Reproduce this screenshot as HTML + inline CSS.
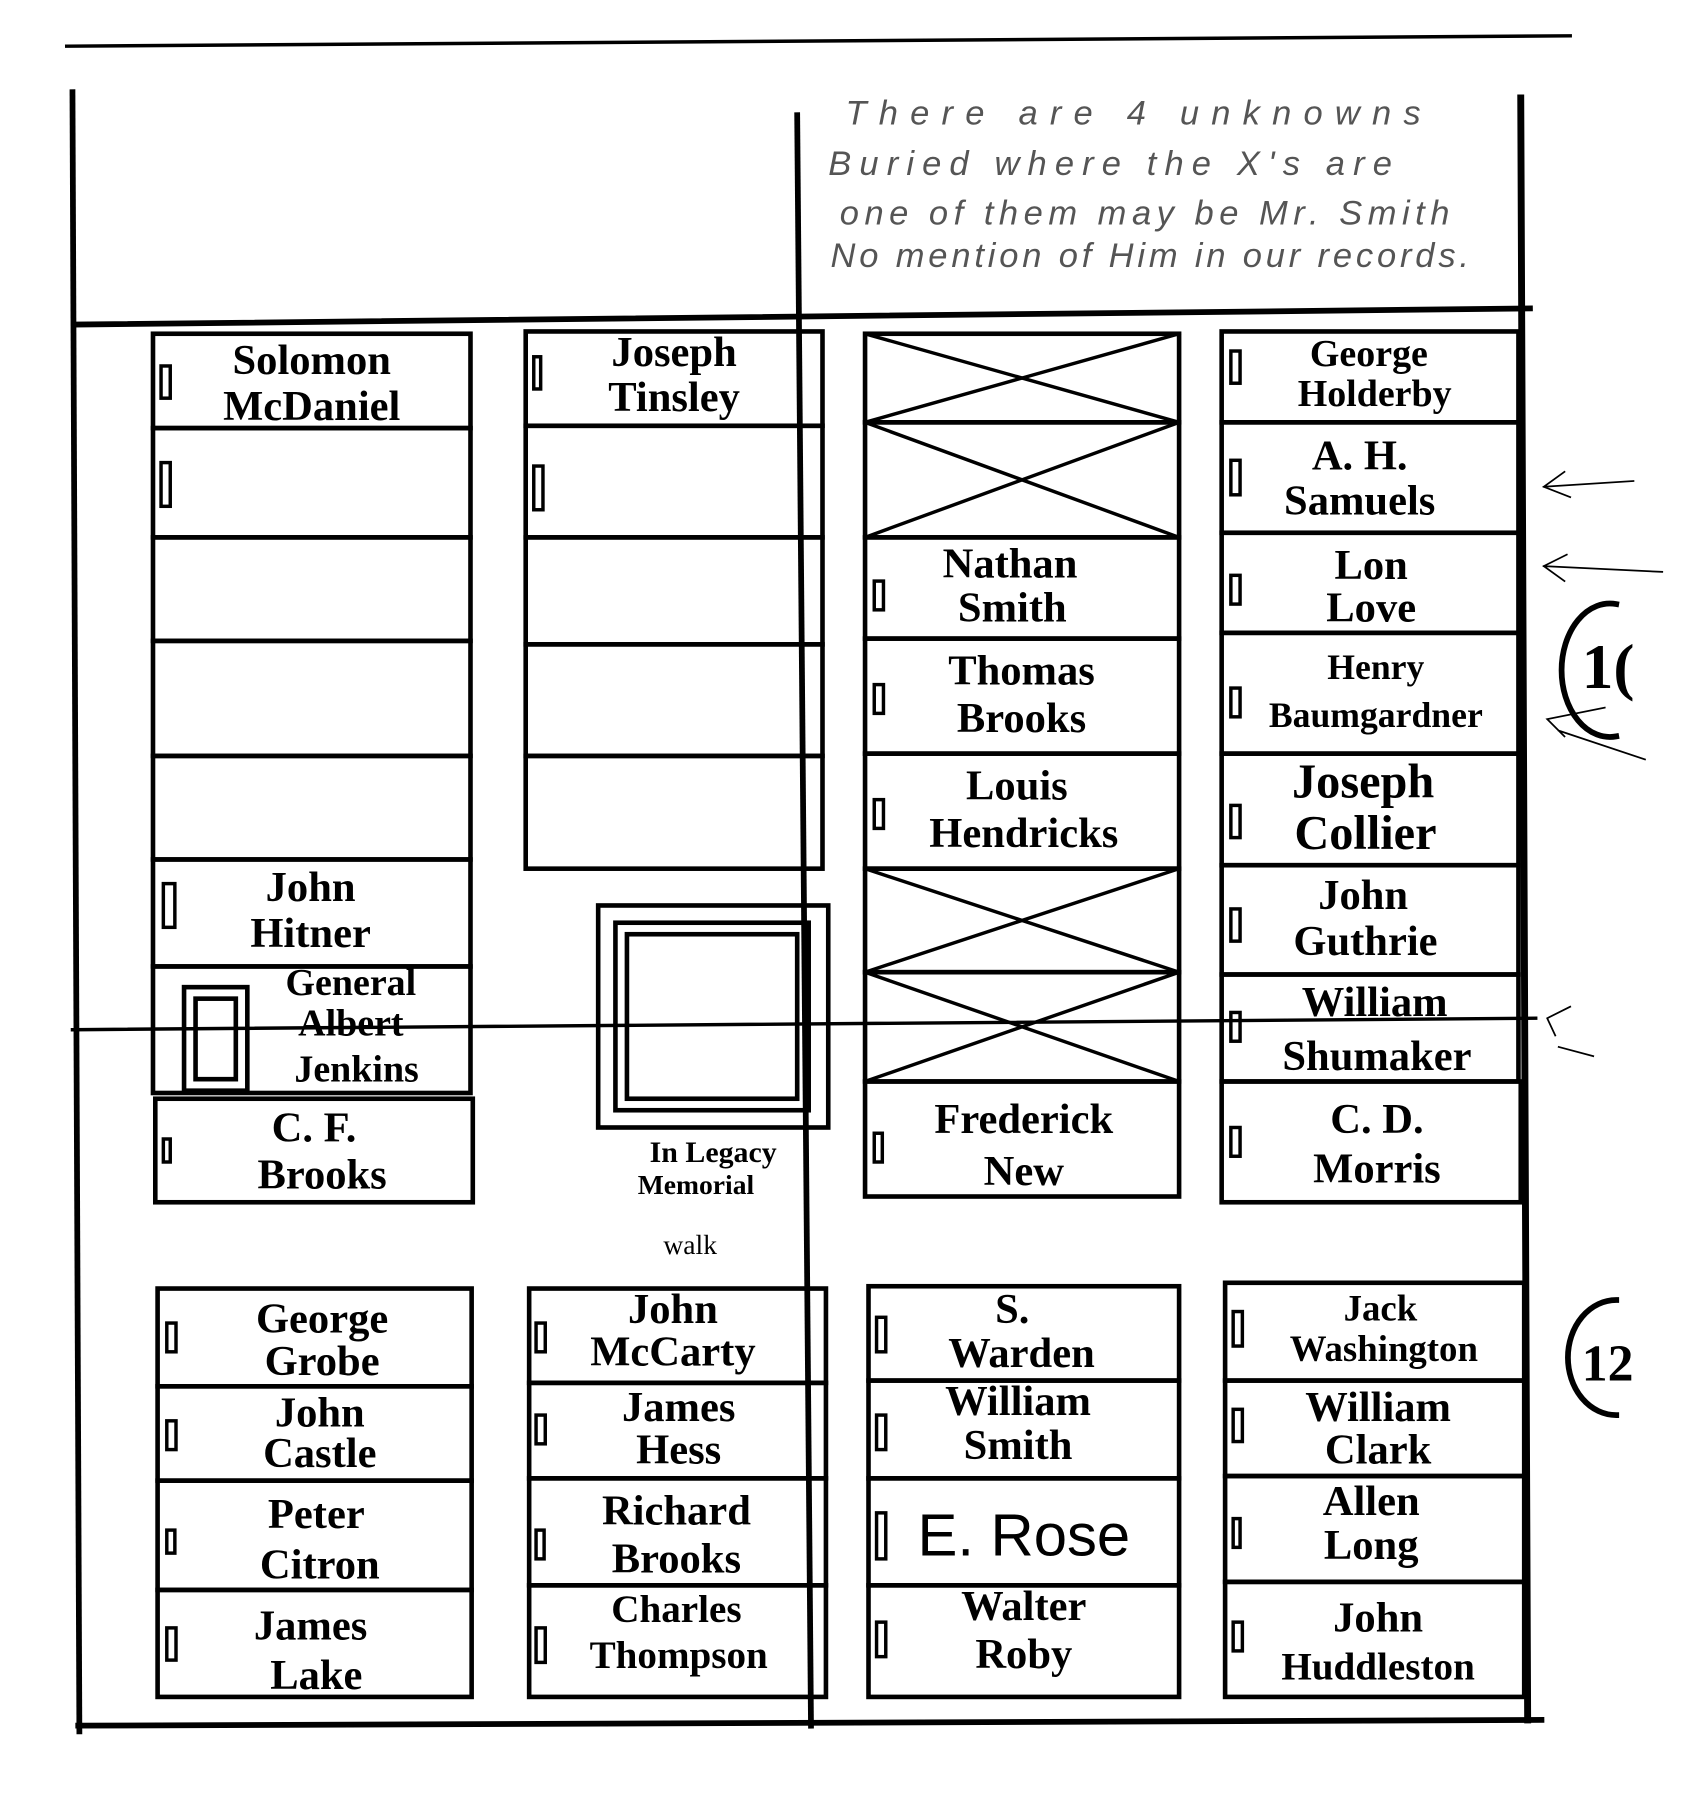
<!DOCTYPE html>
<html><head><meta charset="utf-8"><style>
html,body{margin:0;padding:0;background:#fff;}
svg{display:block;}
.n{font-family:"Liberation Serif",serif;font-weight:bold;font-size:37px;fill:#000;text-anchor:middle;}
.h{font-family:"Liberation Sans",sans-serif;font-size:30px;fill:#555;font-style:italic;}
</style></head><body>
<svg width="1691" height="1796" viewBox="0 0 1470 1561" xmlns="http://www.w3.org/2000/svg">
<g stroke="#000" fill="none" stroke-linecap="square">
<line x1="58" y1="40" x2="1365" y2="31" stroke-width="3"/>
<line x1="63" y1="80" x2="69" y2="1505" stroke-width="5"/>
<line x1="693" y1="100" x2="705" y2="1500" stroke-width="5"/>
<line x1="1322" y1="85" x2="1328" y2="1495" stroke-width="6"/>
<line x1="66" y1="282" x2="1330" y2="268" stroke-width="5"/>
<line x1="68" y1="1500" x2="1340" y2="1495" stroke-width="5"/>
<line x1="63" y1="895" x2="1335" y2="885" stroke-width="3"/>
<g stroke-width="4">
<rect x="133" y="290" width="276" height="82"/>
<rect x="133" y="372" width="276" height="95"/>
<rect x="133" y="467" width="276" height="90"/>
<rect x="133" y="557" width="276" height="100"/>
<rect x="133" y="657" width="276" height="90"/>
<rect x="133" y="747" width="276" height="93"/>
<rect x="133" y="840" width="276" height="110"/>
<rect x="135" y="955" width="276" height="90"/>
<rect x="457" y="288" width="258" height="82"/>
<rect x="457" y="370" width="258" height="97"/>
<rect x="457" y="467" width="258" height="93"/>
<rect x="457" y="560" width="258" height="97"/>
<rect x="457" y="657" width="258" height="98"/>
<rect x="520" y="787" width="200" height="193"/>
<rect x="535" y="802" width="168" height="163"/>
<rect x="545" y="812" width="148" height="143"/>
<rect x="160" y="858" width="55" height="90"/>
<rect x="170" y="868" width="35" height="70"/>
<rect x="752" y="290" width="273" height="77"/>
<rect x="752" y="367" width="273" height="100"/>
<rect x="752" y="467" width="273" height="88"/>
<rect x="752" y="555" width="273" height="100"/>
<rect x="752" y="655" width="273" height="100"/>
<rect x="752" y="755" width="273" height="90"/>
<rect x="752" y="845" width="273" height="95"/>
<rect x="752" y="940" width="273" height="100"/>
<rect x="1062" y="288" width="258" height="79"/>
<rect x="1062" y="367" width="258" height="96"/>
<rect x="1062" y="463" width="258" height="87"/>
<rect x="1062" y="550" width="258" height="105"/>
<rect x="1062" y="655" width="258" height="97"/>
<rect x="1062" y="752" width="258" height="95"/>
<rect x="1062" y="847" width="258" height="93"/>
<rect x="1062" y="940" width="260" height="105"/>
<rect x="137" y="1120" width="273" height="85"/>
<rect x="137" y="1205" width="273" height="82"/>
<rect x="137" y="1287" width="273" height="95"/>
<rect x="137" y="1382" width="273" height="93"/>
<rect x="460" y="1120" width="258" height="82"/>
<rect x="460" y="1202" width="258" height="83"/>
<rect x="460" y="1285" width="258" height="93"/>
<rect x="460" y="1378" width="258" height="97"/>
<rect x="755" y="1118" width="270" height="82"/>
<rect x="755" y="1200" width="270" height="85"/>
<rect x="755" y="1285" width="270" height="93"/>
<rect x="755" y="1378" width="270" height="97"/>
<rect x="1065" y="1115" width="260" height="85"/>
<rect x="1065" y="1200" width="260" height="83"/>
<rect x="1065" y="1283" width="260" height="92"/>
<rect x="1065" y="1375" width="260" height="100"/>
</g>
<g stroke-width="3">
<line x1="752" y1="290" x2="1025" y2="367"/><line x1="1025" y1="290" x2="752" y2="367"/>
<line x1="752" y1="367" x2="1025" y2="467"/><line x1="1025" y1="367" x2="752" y2="467"/>
<line x1="752" y1="755" x2="1025" y2="845"/><line x1="1025" y1="755" x2="752" y2="845"/>
<line x1="752" y1="845" x2="1025" y2="940"/><line x1="1025" y1="845" x2="752" y2="940"/>
</g>
<g stroke-width="3">
<rect x="140" y="318" width="8" height="28"/><rect x="140" y="402" width="8" height="38"/>
<rect x="464" y="310" width="6" height="28"/><rect x="464" y="405" width="8" height="38"/>
<rect x="142" y="768" width="10" height="38"/><rect x="142" y="990" width="6" height="20"/>
<rect x="760" y="505" width="8" height="25"/><rect x="760" y="595" width="8" height="25"/><rect x="760" y="695" width="8" height="25"/><rect x="760" y="985" width="7" height="25"/>
<rect x="1070" y="305" width="8" height="28"/><rect x="1070" y="400" width="8" height="30"/><rect x="1070" y="500" width="8" height="25"/><rect x="1070" y="598" width="8" height="25"/><rect x="1070" y="700" width="8" height="28"/><rect x="1070" y="790" width="8" height="28"/><rect x="1070" y="880" width="8" height="25"/><rect x="1070" y="980" width="8" height="25"/>
<rect x="145" y="1150" width="8" height="25"/><rect x="145" y="1235" width="8" height="25"/><rect x="145" y="1330" width="7" height="20"/><rect x="145" y="1415" width="8" height="28"/>
<rect x="466" y="1150" width="8" height="25"/><rect x="466" y="1230" width="8" height="25"/><rect x="466" y="1330" width="7" height="25"/><rect x="466" y="1415" width="8" height="30"/>
<rect x="762" y="1145" width="8" height="30"/><rect x="762" y="1230" width="8" height="30"/><rect x="762" y="1315" width="8" height="40"/><rect x="762" y="1410" width="8" height="30"/>
<rect x="1072" y="1140" width="8" height="30"/><rect x="1072" y="1225" width="8" height="28"/><rect x="1072" y="1320" width="6" height="25"/><rect x="1072" y="1410" width="8" height="25"/>
</g>
<g stroke-width="1.5">
<path d="M1420 418 L1342 423 M1360 410 L1342 423 L1365 432"/>
<path d="M1445 497 L1342 492 M1362 482 L1342 492 L1360 505"/>
<path d="M1430 660 L1355 635 M1395 615 L1345 625 L1360 640"/>
<path d="M1385 918 L1355 910 M1365 875 L1345 885 L1352 900"/>
</g>
<path d="M1405 525 A42 58 0 1 0 1405 640" stroke-width="5"/>
<path d="M1405 1130 A42 50 0 1 0 1405 1230" stroke-width="5"/>
</g>
<g fill="#000" font-family="Liberation Serif,serif" font-weight="bold" font-size="55">
<text x="1375" y="598">1(</text>
<text x="1375" y="1200" font-size="45">12</text>
</g>
<g class="h">
<text x="735" y="108" textLength="500">There are 4 unknowns</text>
<text x="720" y="152" textLength="490">Buried where the X's are</text>
<text x="730" y="195" textLength="530">one of them may be Mr. Smith</text>
<text x="722" y="232" textLength="555">No mention of Him in our records.</text>
</g>
<g class="n">
<text x="271" y="325">Solomon</text><text x="271" y="365">McDaniel</text>
<text x="586" y="318">Joseph</text><text x="586" y="357">Tinsley</text>
<text x="270" y="783">John</text><text x="270" y="823">Hitner</text>
<text x="305" y="865" font-size="33">General</text><text x="305" y="900" font-size="33">Albert</text><text x="310" y="940" font-size="33">Jenkins</text>
<text x="273" y="992">C. F.</text><text x="280" y="1033">Brooks</text>
<text x="878" y="502">Nathan</text><text x="880" y="540">Smith</text>
<text x="888" y="595">Thomas</text><text x="888" y="636">Brooks</text>
<text x="884" y="695">Louis</text><text x="890" y="736">Hendricks</text>
<text x="890" y="985">Frederick</text><text x="890" y="1030">New</text>
<text x="1190" y="318" font-size="33">George</text><text x="1195" y="353" font-size="33">Holderby</text>
<text x="1182" y="408">A. H.</text><text x="1182" y="447">Samuels</text>
<text x="1192" y="503">Lon</text><text x="1192" y="540">Love</text>
<text x="1196" y="590" font-size="31">Henry</text><text x="1196" y="632" font-size="31">Baumgardner</text>
<text x="1185" y="693" font-size="42">Joseph</text><text x="1187" y="738" font-size="42">Collier</text>
<text x="1185" y="790">John</text><text x="1187" y="830">Guthrie</text>
<text x="1195" y="883">William</text><text x="1197" y="930">Shumaker</text>
<text x="1197" y="985">C. D.</text><text x="1197" y="1028">Morris</text>
<text x="280" y="1158">George</text><text x="280" y="1195">Grobe</text>
<text x="278" y="1240">John</text><text x="278" y="1275">Castle</text>
<text x="275" y="1328">Peter</text><text x="278" y="1372">Citron</text>
<text x="270" y="1425">James</text><text x="275" y="1468">Lake</text>
<text x="585" y="1150">John</text><text x="585" y="1187">McCarty</text>
<text x="590" y="1235">James</text><text x="590" y="1272">Hess</text>
<text x="588" y="1325">Richard</text><text x="588" y="1367">Brooks</text>
<text x="588" y="1410" font-size="34">Charles</text><text x="590" y="1450" font-size="34">Thompson</text>
<text x="880" y="1150">S.</text><text x="888" y="1188">Warden</text>
<text x="885" y="1230">William</text><text x="885" y="1268">Smith</text>
<text x="890" y="1352" font-size="52" font-weight="normal" font-family="Liberation Sans Narrow,Liberation Sans,sans-serif">E. Rose</text>
<text x="890" y="1408">Walter</text><text x="890" y="1450">Roby</text>
<text x="1200" y="1148" font-size="32">Jack</text><text x="1203" y="1183" font-size="32">Washington</text>
<text x="1198" y="1235">William</text><text x="1198" y="1272">Clark</text>
<text x="1192" y="1317">Allen</text><text x="1192" y="1355">Long</text>
<text x="1198" y="1418">John</text><text x="1198" y="1460" font-size="34">Huddleston</text>
<text x="620" y="1010" font-size="26">In Legacy</text>
<text x="605" y="1038" font-size="24">Memorial</text>
<text x="600" y="1090" font-size="24" font-weight="normal">walk</text>
</g>
</svg>
</body></html>
